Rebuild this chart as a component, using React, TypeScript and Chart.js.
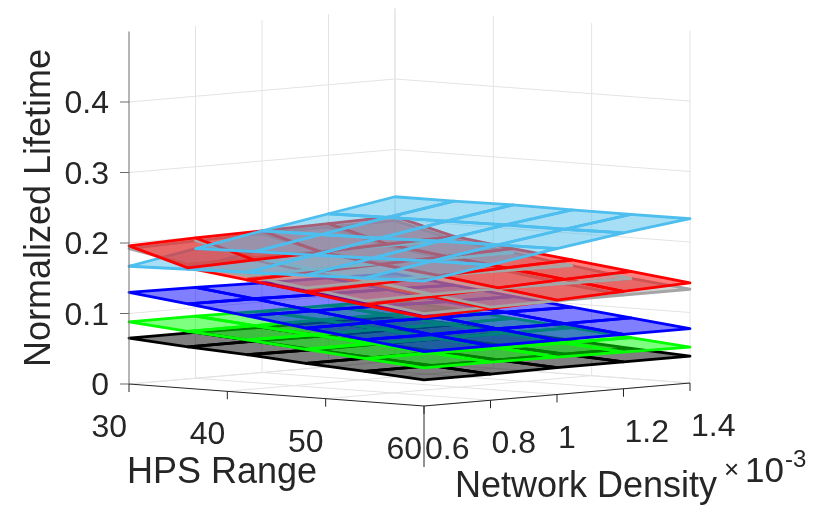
import React, { useEffect, useRef } from 'react';
import Chart from 'chart.js/auto';

// mesh of the surfaces: rows follow hpsRange, columns follow density (x 10^-3)
const hpsRange = [30, 36, 42, 48, 54, 60];
const density = [0.6, 0.8, 1.0, 1.2, 1.4];

const blackLife = [
  [0.065, 0.065, 0.064, 0.064, 0.063],
  [0.059, 0.059, 0.058, 0.058, 0.058],
  [0.054, 0.053, 0.053, 0.053, 0.053],
  [0.048, 0.048, 0.048, 0.048, 0.048],
  [0.043, 0.043, 0.043, 0.043, 0.043],
  [0.037, 0.037, 0.038, 0.038, 0.038],
];
const greenLife = [
  [0.088, 0.088, 0.087, 0.087, 0.086],
  [0.081, 0.081, 0.081, 0.080, 0.080],
  [0.075, 0.074, 0.074, 0.073, 0.073],
  [0.068, 0.068, 0.067, 0.066, 0.066],
  [0.061, 0.061, 0.060, 0.059, 0.058],
  [0.054, 0.054, 0.053, 0.052, 0.051],
];
const blueLife = [
  [0.130, 0.129, 0.127, 0.126, 0.124],
  [0.120, 0.119, 0.117, 0.116, 0.114],
  [0.109, 0.108, 0.107, 0.105, 0.104],
  [0.098, 0.098, 0.097, 0.096, 0.095],
  [0.088, 0.087, 0.087, 0.086, 0.086],
  [0.077, 0.077, 0.077, 0.077, 0.077],
];
const grayLife = [
  [0.192, 0.195, 0.197, 0.198, 0.199],
  [0.176, 0.177, 0.178, 0.178, 0.178],
  [0.166, 0.167, 0.167, 0.166, 0.166],
  [0.155, 0.156, 0.156, 0.155, 0.154],
  [0.143, 0.144, 0.144, 0.143, 0.142],
  [0.131, 0.132, 0.133, 0.133, 0.133],
];
const redLife = [
  [0.196, 0.199, 0.201, 0.203, 0.205],
  [0.171, 0.174, 0.177, 0.180, 0.183],
  [0.160, 0.163, 0.166, 0.169, 0.172],
  [0.149, 0.152, 0.156, 0.159, 0.162],
  [0.137, 0.141, 0.145, 0.149, 0.152],
  [0.126, 0.130, 0.134, 0.138, 0.142],
];
const cyanLife = [
  [0.167, 0.184, 0.201, 0.217, 0.233],
  [0.169, 0.186, 0.202, 0.218, 0.233],
  [0.171, 0.187, 0.203, 0.219, 0.234],
  [0.173, 0.189, 0.205, 0.220, 0.233],
  [0.175, 0.191, 0.206, 0.220, 0.233],
  [0.177, 0.192, 0.207, 0.221, 0.233],
];

const hpsTicks = [30, 40, 50, 60];
const hpsTickLabels = ['30', '40', '50', '60'];
const densityTicks = [0.6, 0.8, 1.0, 1.2, 1.4];
const densityTickLabels = ['0.6', '0.8', '1', '1.2', '1.4'];
const lifeTicks = [0, 0.1, 0.2, 0.3, 0.4];
const lifeTickLabels = ['0', '0.1', '0.2', '0.3', '0.4'];
const lifeMax = 0.5;

const surfaces = [
  { name: 'black', z: blackLife, rgb: [0, 0, 0] },
  { name: 'green', z: greenLife, rgb: [0, 255, 0] },
  { name: 'blue', z: blueLife, rgb: [0, 0, 255] },
  { name: 'gray', z: grayLife, rgb: [165, 165, 165] },
  { name: 'red', z: redLife, rgb: [255, 0, 0] },
  { name: 'cyan', z: cyanLife, rgb: [77, 190, 238] },
];

// orthographic camera (low elevation) mapping the data box into view units
const view = { ox: 129, oy: 384, hx: 295, hy: 22, nx: 266, ny: -23, zy: 705 };
const hMin = 30, hMax = 60, nMin = 0.6, nMax = 1.4;

function project(h: number, n: number, z: number) {
  const a = (h - hMin) / (hMax - hMin);
  const b = (n - nMin) / (nMax - nMin);
  return { x: view.ox + a * view.hx + b * view.nx, y: view.oy + a * view.hy + b * view.ny - z * view.zy };
}

const FONT = '"Liberation Sans", Arial, sans-serif';
const INK = '#262626';

function toPx(chart: any, h: number, n: number, z: number) {
  const p = project(h, n, z);
  return [chart.scales.x.getPixelForValue(p.x), chart.scales.y.getPixelForValue(p.y)];
}

function seg(ctx: CanvasRenderingContext2D, a: number[], b: number[]) {
  ctx.beginPath();
  ctx.moveTo(a[0], a[1]);
  ctx.lineTo(b[0], b[1]);
  ctx.stroke();
}

const boxPlugin = {
  id: 'surfaceBox',
  beforeDatasetsDraw(chart: any) {
    const ctx: CanvasRenderingContext2D = chart.ctx;
    ctx.save();
    ctx.strokeStyle = '#e3e3e3';
    ctx.lineWidth = 1;
    lifeTicks.forEach((z) => {
      seg(ctx, toPx(chart, hMin, nMin, z), toPx(chart, hMin, nMax, z));
      seg(ctx, toPx(chart, hMin, nMax, z), toPx(chart, hMax, nMax, z));
    });
    densityTicks.slice(1).forEach((n) => {
      seg(ctx, toPx(chart, hMin, n, 0), toPx(chart, hMin, n, lifeMax));
      seg(ctx, toPx(chart, hMin, n, 0), toPx(chart, hMax, n, 0));
    });
    hpsTicks.forEach((h) => {
      seg(ctx, toPx(chart, h, nMax, 0), toPx(chart, h, nMax, lifeMax));
      seg(ctx, toPx(chart, h, nMin, 0), toPx(chart, h, nMax, 0));
    });
    ctx.restore();
  },
  afterDatasetsDraw(chart: any) {
    const ctx: CanvasRenderingContext2D = chart.ctx;
    const cols = density.length;
    const quads: { pts: any[]; zAvg: number; s: number }[] = [];
    surfaces.forEach((s, si) => {
      const pts = chart.getDatasetMeta(si).data;
      for (let i = 0; i < hpsRange.length - 1; i++) {
        for (let j = 0; j < cols - 1; j++) {
          const zAvg = (s.z[i][j] + s.z[i + 1][j] + s.z[i + 1][j + 1] + s.z[i][j + 1]) / 4;
          quads.push({
            pts: [pts[i * cols + j], pts[(i + 1) * cols + j], pts[(i + 1) * cols + j + 1], pts[i * cols + j + 1]],
            zAvg,
            s: si,
          });
        }
      }
    });
    // painter's order: along a view ray the nearer surface is the higher one
    quads.sort((a, b) => a.zAvg - b.zAvg || a.s - b.s);

    ctx.save();
    ctx.lineJoin = 'round';
    ctx.lineCap = 'round';
    quads.forEach((q) => {
      const [r, g, b] = surfaces[q.s].rgb;
      ctx.beginPath();
      q.pts.forEach((p: any, k: number) => (k ? ctx.lineTo(p.x, p.y) : ctx.moveTo(p.x, p.y)));
      ctx.closePath();
      ctx.fillStyle = `rgba(${r},${g},${b},0.5)`;
      ctx.fill();
      ctx.strokeStyle = `rgb(${r},${g},${b})`;
      ctx.lineWidth = 2.8;
      ctx.stroke();
    });
    ctx.restore();

    // axes, ticks and labels
    ctx.save();
    ctx.strokeStyle = INK;
    ctx.lineWidth = 1;
    seg(ctx, toPx(chart, hMin, nMin, 0), toPx(chart, hMax, nMin, 0));
    seg(ctx, toPx(chart, hMax, nMin, 0), toPx(chart, hMax, nMax, 0));
    ctx.strokeStyle = '#6a6a6a';
    seg(ctx, toPx(chart, hMin, nMin, 0), toPx(chart, hMin, nMin, lifeMax));

    ctx.fillStyle = INK;
    ctx.font = `32px ${FONT}`;
    ctx.textAlign = 'right';
    lifeTicks.forEach((z, k) => {
      const p = toPx(chart, hMin, nMin, z);
      ctx.strokeStyle = '#6a6a6a';
      seg(ctx, [p[0] - 9, p[1]], p);
      ctx.fillText(lifeTickLabels[k], p[0] - 20, p[1] + 11);
    });
    ctx.strokeStyle = INK;
    hpsTicks.forEach((h, k) => {
      const p = toPx(chart, h, nMin, 0);
      seg(ctx, p, [p[0], p[1] + 8]);
      ctx.fillText(hpsTickLabels[k], p[0] - 2, p[1] + 53);
    });
    ctx.textAlign = 'left';
    densityTicks.forEach((n, k) => {
      const p = toPx(chart, hMax, n, 0);
      seg(ctx, p, [p[0], p[1] + (k === 0 ? 61 : 8)]);
      ctx.fillText(densityTickLabels[k], p[0] + 1, p[1] + 53);
    });

    ctx.font = `36px ${FONT}`;
    ctx.fillText('HPS Range', 127, 483);
    ctx.fillText('Network Density', 455, 497);
    ctx.font = `26px ${FONT}`;
    ctx.fillText('\u00d7', 724, 478);
    ctx.font = `35px ${FONT}`;
    ctx.fillText('10', 745, 482);
    ctx.font = `24px ${FONT}`;
    ctx.fillText('-3', 785, 467);

    ctx.font = `36px ${FONT}`;
    ctx.translate(50, 208);
    ctx.rotate(-Math.PI / 2);
    ctx.textAlign = 'center';
    ctx.fillText('Normalized Lifetime', 0, 0);
    ctx.restore();
  },
};

const App: React.FC = () => {
  const canvasRef = useRef<HTMLCanvasElement>(null);
  const chartRef = useRef<Chart | null>(null);

  useEffect(() => {
    const ctx = canvasRef.current?.getContext('2d');
    if (!ctx) return;
    if (chartRef.current) chartRef.current.destroy();

    chartRef.current = new Chart(ctx, {
      type: 'scatter',
      data: {
        datasets: surfaces.map((s) => ({
          label: s.name,
          data: hpsRange.flatMap((h, i) => density.map((n, j) => project(h, n, s.z[i][j]))),
          pointRadius: 0,
          showLine: false,
        })),
      },
      options: {
        animation: false,
        responsive: true,
        maintainAspectRatio: false,
        layout: { padding: 0 },
        scales: {
          x: { type: 'linear', min: 0, max: 830, display: false },
          y: { type: 'linear', min: 0, max: 516, reverse: true, display: false },
        },
        plugins: { legend: { display: false }, tooltip: { enabled: false } },
      },
      plugins: [boxPlugin],
    });

    return () => {
      if (chartRef.current) {
        chartRef.current.destroy();
        chartRef.current = null;
      }
    };
  }, []);

  return (
    <div style={{ position: 'fixed', left: 0, top: 0, width: 830, height: 516, background: '#fff' }}>
      <canvas ref={canvasRef} />
    </div>
  );
};

export default App;
